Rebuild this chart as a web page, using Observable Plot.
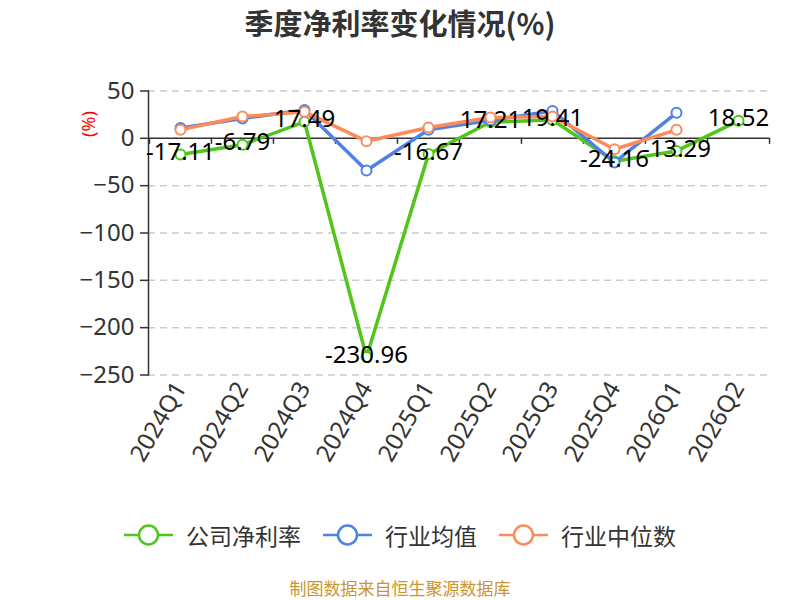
<!DOCTYPE html>
<html><head><meta charset="utf-8">
<script src="https://cdn.jsdelivr.net/npm/d3@7"></script>
<script src="https://cdn.jsdelivr.net/npm/@observablehq/plot@0.6"></script>
<style>
body{margin:0;background:#fff;font-family:"Noto Sans","Noto Sans CJK SC",sans-serif;}
#wrap{position:relative;width:800px;height:600px;}
#title{position:absolute;top:0;left:0;width:800px;height:44px;line-height:44px;text-align:center;font-size:29px;font-weight:bold;color:#333;font-family:"Noto Sans CJK SC","Noto Sans",sans-serif;}
#chart{position:absolute;top:50px;left:0;}
#ylab{position:absolute;left:71px;top:113px;width:34px;height:22px;line-height:22px;text-align:center;color:#f00;font-size:18px;transform:rotate(-90deg);}
#legend{position:absolute;top:516px;left:0;width:800px;height:38px;display:flex;justify-content:center;align-items:center;font-size:23px;color:#333;font-family:"Noto Sans CJK SC",sans-serif;}
.item{display:flex;align-items:center;margin:0 11px;}
.item svg{margin-right:13px;}
#caption{position:absolute;top:578px;left:0;width:800px;height:20px;line-height:20px;text-align:center;font-size:17px;color:#c8962e;font-family:"Noto Sans CJK SC",sans-serif;}
</style></head>
<body><div id="wrap">
<div id="title">季度净利率变化情况(%)</div>
<div id="chart"></div>
<div id="ylab">(%)</div>
<div id="legend"></div>
<div id="caption">制图数据来自恒生聚源数据库</div>
</div>
<script>
const quarters = ["2024Q1","2024Q2","2024Q3","2024Q4","2025Q1","2025Q2","2025Q3","2025Q4","2026Q1","2026Q2"];
const companyMargin = [-17.11, -6.79, 17.49, -230.96, -16.67, 17.21, 19.41, -24.16, -13.29, 18.52];
const industryAvg = [11, 21, 30, -34, 9, 19, 29, -25.5, 27, null];
const industryMedian = [9, 23, 28, -3, 11.5, 22, 23, -11.5, 9, null];
const yTicks = [50, 0, -50, -100, -150, -200, -250];
const seriesNames = ["公司净利率", "行业均值", "行业中位数"];
const colors = ["#52c41a", "#4f81e6", "#fd8a5a"];

const W = 800, H = 440, ML = 148, MR = 31, MT = 40.5, MB = 115.5;
const step = (W - ML - MR) / quarters.length;

function rows(vals) {
  return quarters.map((q, i) => ({q, v: vals[i]})).filter(d => d.v != null);
}
const comp = rows(companyMargin), avg = rows(industryAvg), med = rows(industryMedian);

const font = '"Noto Sans","Noto Sans CJK SC",sans-serif';
const chart = Plot.plot({
  width: W, height: H,
  marginLeft: ML, marginRight: MR, marginTop: MT, marginBottom: MB,
  style: {fontFamily: font, fontSize: "24px", color: "#333", background: "#fff"},
  x: {type: "point", domain: quarters, padding: 0.5},
  y: {domain: [-250, 50]},
  marks: [
    Plot.ruleY(yTicks.filter(t => t !== 0), {stroke: "#ccc", strokeWidth: 1.5, strokeDasharray: "7,5"}),
    Plot.axisY({ticks: yTicks, tickSize: 8, tickPadding: 6, fontSize: 24, fill: "#333", stroke: "#333", strokeWidth: 1.5, label: null}),
    Plot.frame({anchor: "left", stroke: "#333", strokeWidth: 1.5}),
    Plot.ruleY([0], {stroke: "#333", strokeWidth: 1.5}),
    Plot.ruleX(quarters, {x: d => d, y1: 0, y2: 0, insetBottom: -6, dx: -step / 2, stroke: "#333", strokeWidth: 1.5}),
    Plot.ruleX(quarters.slice(-1), {x: d => d, y1: 0, y2: 0, insetBottom: -6, dx: step / 2, stroke: "#333", strokeWidth: 1.5}),
    Plot.axisX({tickSize: 0, tickPadding: 9, tickRotate: -60, fontSize: 24, fill: "#333", label: null}),
    Plot.line(comp, {x: "q", y: "v", stroke: colors[0], strokeWidth: 3.5}),
    Plot.dot(comp, {x: "q", y: "v", r: 5, fill: "#fff", stroke: colors[0], strokeWidth: 2}),
    Plot.line(avg, {x: "q", y: "v", stroke: colors[1], strokeWidth: 3.5}),
    Plot.dot(avg, {x: "q", y: "v", r: 5, fill: "#fff", stroke: colors[1], strokeWidth: 2}),
    Plot.line(med, {x: "q", y: "v", stroke: colors[2], strokeWidth: 3.5}),
    Plot.dot(med, {x: "q", y: "v", r: 5, fill: "#fff", stroke: colors[2], strokeWidth: 2}),
    Plot.text(comp, {x: "q", y: "v", text: d => d.v.toFixed(2), dy: -2, fontSize: 24, fill: "#000", textAnchor: "middle", lineAnchor: "middle"})
  ]
});
document.getElementById("chart").appendChild(chart);

const legend = document.getElementById("legend");
seriesNames.forEach((name, i) => {
  const item = document.createElement("div");
  item.className = "item";
  item.innerHTML = `<svg width="49" height="24"><line x1="0" y1="12" x2="49" y2="12" stroke="${colors[i]}" stroke-width="2.5"/><circle cx="24.5" cy="12" r="9.5" fill="#fff" stroke="${colors[i]}" stroke-width="2.5"/></svg><span>${name}</span>`;
  legend.appendChild(item);
});
</script>
</body></html>
